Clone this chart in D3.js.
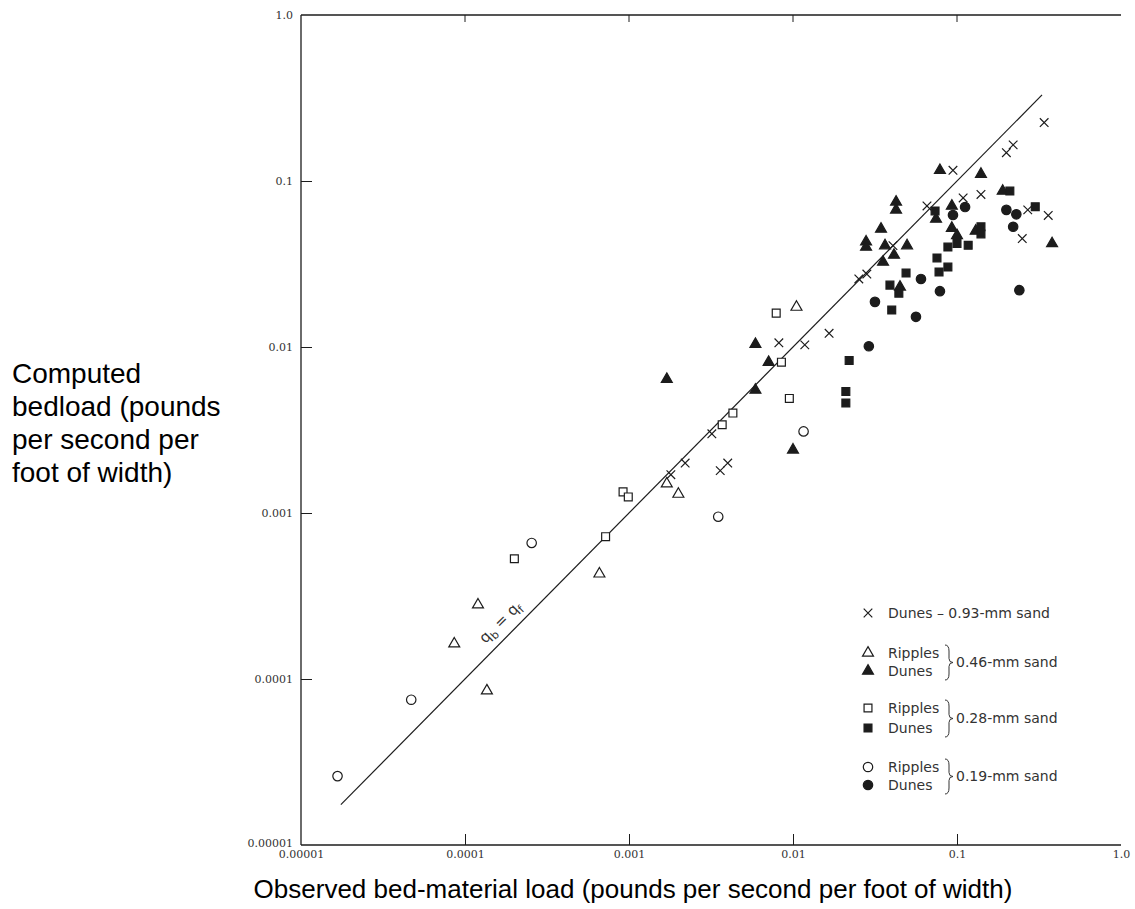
<!DOCTYPE html>
<html>
<head>
<meta charset="utf-8">
<script src="https://cdn.jsdelivr.net/npm/d3@7"></script>
<style>
  body { margin: 0; background: #fff; }
  svg { display: block; }
</style>
</head>
<body>
<div id="chart"></div>
<script>
// observed load (x) vs computed bedload (y), lb/s/ft
var dunes093 = [[0.0166, 0.0121], [0.0082, 0.0106], [0.0118, 0.0103], [0.0032, 0.0030],
    [0.0022, 0.0020], [0.0040, 0.0020], [0.0036, 0.0018], [0.0018, 0.0017],
    [0.0945, 0.116], [0.109, 0.079], [0.0656, 0.0707], [0.0407, 0.0408],
    [0.0252, 0.0257], [0.0282, 0.0275], [0.20, 0.148], [0.22, 0.165],
    [0.34, 0.225], [0.14, 0.083], [0.25, 0.045], [0.27, 0.067], [0.36, 0.062]];
var ripples046 = [[8.6e-5, 1.63e-4], [1.2e-4, 2.8e-4], [1.36e-4, 8.5e-5], [6.6e-4, 4.3e-4],
    [0.0017, 0.0015], [0.0020, 0.0013], [0.0105, 0.0174]];
var dunes046 = [[0.0017, 0.0064], [0.0059, 0.0104], [0.0071, 0.0081], [0.0059, 0.0055],
    [0.010, 0.0024], [0.0787, 0.116], [0.0425, 0.0748], [0.0425, 0.067], [0.0745, 0.059],
    [0.093, 0.0707], [0.0344, 0.0514], [0.093, 0.052], [0.1, 0.047], [0.0279, 0.043],
    [0.0279, 0.040], [0.0364, 0.0408], [0.0496, 0.0408], [0.0413, 0.0358], [0.0354, 0.0325],
    [0.0449, 0.023], [0.14, 0.11], [0.19, 0.087], [0.13, 0.05], [0.38, 0.042]];
var ripples028 = [[2.0e-4, 5.3e-4], [7.2e-4, 7.2e-4], [0.00092, 0.00134], [0.00099, 0.00125],
    [0.0037, 0.0034], [0.0043, 0.0040], [0.0085, 0.0081], [0.0095, 0.0049], [0.0079, 0.016]];
var dunes028 = [[0.0735, 0.066], [0.1, 0.042], [0.088, 0.040], [0.117, 0.041], [0.0755, 0.0344],
    [0.088, 0.0303], [0.0777, 0.0283], [0.0489, 0.0279], [0.039, 0.0236], [0.0442, 0.0211],
    [0.040, 0.0167], [0.21, 0.087], [0.14, 0.053], [0.14, 0.048], [0.30, 0.07],
    [0.022, 0.0083], [0.021, 0.0054], [0.021, 0.0046]];
var ripples019 = [[1.67e-5, 2.6e-5], [4.7e-5, 7.5e-5], [2.55e-4, 6.6e-4], [0.0035, 0.00095],
    [0.0116, 0.0031]];
var dunes019 = [[0.112, 0.0697], [0.0945, 0.0624], [0.0603, 0.0257], [0.0787, 0.0217],
    [0.0316, 0.0187], [0.0562, 0.0152], [0.029, 0.0101], [0.2, 0.067], [0.23, 0.063],
    [0.22, 0.053], [0.24, 0.022]];

var tickValues = [0.00001, 0.0001, 0.001, 0.01, 0.1, 1.0];
var tickLabels = ["0.00001", "0.0001", "0.001", "0.01", "0.1", "1.0"];
var equalityLine = [1.75e-5, 0.33];

var totalWidth = 1135,
    totalHeight = 909;
var plotLeft = 301, plotRight = 1121, plotTop = 15, plotBottom = 845;
var ink = "#1c1c1c";

var xScale = d3.scaleLog().domain([1e-5, 1]).range([plotLeft, plotRight]);
var yScale = d3.scaleLog().domain([1e-5, 1]).range([plotBottom, plotTop]);

var svg = d3.select("#chart").append("svg")
    .attr("width", totalWidth)
    .attr("height", totalHeight);

svg.append("rect").attr("width", totalWidth).attr("height", totalHeight).attr("fill", "#fff");

// frame: bottom, left and top lines
var frame = svg.append("g").attr("stroke", ink).attr("stroke-width", 1.3).attr("fill", "none");
frame.append("line").attr("x1", plotLeft).attr("x2", plotRight).attr("y1", plotBottom).attr("y2", plotBottom);
frame.append("line").attr("x1", plotLeft).attr("x2", plotLeft).attr("y1", plotTop).attr("y2", plotBottom);
frame.append("line").attr("x1", plotLeft).attr("x2", plotRight).attr("y1", plotTop).attr("y2", plotTop);

var xAxis = d3.axisBottom(xScale).tickValues(tickValues)
    .tickSize(-11).tickPadding(5)
    .tickFormat(function(d, i) { return tickLabels[i]; });
var yAxis = d3.axisLeft(yScale).tickValues(tickValues)
    .tickSize(-11).tickPadding(8)
    .tickFormat(function(d, i) { return tickLabels[i]; });

var gx = svg.append("g").attr("transform", "translate(0," + plotBottom + ")").call(xAxis);
var gy = svg.append("g").attr("transform", "translate(" + plotLeft + ",0)").call(yAxis);
[gx, gy].forEach(function(g) {
    g.select(".domain").remove();
    g.selectAll(".tick line").attr("stroke", ink).attr("stroke-width", 1);
    g.selectAll(".tick text")
        .attr("fill", "#333")
        .style("font-family", "'DejaVu Serif', serif")
        .style("font-size", "11px");
    g.selectAll(".tick").filter(function(d) { return d === 1e-5 || d === 1; })
        .select("line").remove();
});
gy.selectAll(".tick").filter(function(d) { return d === 1e-5; })
    .select("text").attr("dy", "0.1em");

// short ticks hanging from the top line
svg.append("g").selectAll("line").data(tickValues.slice(1, 5)).enter().append("line")
    .attr("x1", function(d) { return xScale(d); })
    .attr("x2", function(d) { return xScale(d); })
    .attr("y1", plotTop).attr("y2", plotTop + 7)
    .attr("stroke", ink).attr("stroke-width", 1);

// q_b = q_f line
svg.append("line")
    .attr("x1", xScale(equalityLine[0])).attr("y1", yScale(equalityLine[0]))
    .attr("x2", xScale(equalityLine[1])).attr("y2", yScale(equalityLine[1]))
    .attr("stroke", ink).attr("stroke-width", 1.2);

var lx = xScale(1.9e-4) - 7, ly = yScale(1.9e-4) - 7;
var lab = svg.append("text")
    .attr("transform", "translate(" + lx + "," + ly + ") rotate(-45)")
    .attr("text-anchor", "middle")
    .attr("fill", "#333")
    .style("font-family", "'DejaVu Sans', sans-serif")
    .style("font-size", "15px");
lab.append("tspan").text("q");
lab.append("tspan").attr("dy", 4).style("font-size", "11px").text("b");
lab.append("tspan").attr("dy", -4).text(" = q");
lab.append("tspan").attr("dy", 4).style("font-size", "11px").text("f");

// markers
function cross(s) {
    return "M" + -s + "," + -s + "L" + s + "," + s + "M" + -s + "," + s + "L" + s + "," + -s;
}
var tri = d3.symbol().type(d3.symbolTriangle).size(52)(),
    sq = d3.symbol().type(d3.symbolSquare).size(62)(),
    circ = d3.symbol().type(d3.symbolCircle).size(70)();

var series = [
    { data: dunes093, path: cross(4.3), fill: "none" },
    { data: ripples046, path: tri, fill: "#fff" },
    { data: dunes046, path: tri, fill: ink },
    { data: ripples028, path: sq, fill: "#fff" },
    { data: dunes028, path: sq, fill: ink },
    { data: ripples019, path: circ, fill: "#fff" },
    { data: dunes019, path: circ, fill: ink }
];

series.forEach(function(s) {
    svg.append("g").selectAll("path").data(s.data).enter().append("path")
        .attr("d", s.path)
        .attr("transform", function(d) {
            return "translate(" + xScale(d[0]) + "," + yScale(d[1]) + ")";
        })
        .attr("fill", s.fill)
        .attr("stroke", ink)
        .attr("stroke-width", 1.2);
});

// legend
var legendRows = [
    { y: 613, s: 0, text: "Dunes \u2013 0.93-mm sand" },
    { y: 653, s: 1, text: "Ripples" },
    { y: 671, s: 2, text: "Dunes" },
    { y: 708, s: 3, text: "Ripples" },
    { y: 728, s: 4, text: "Dunes" },
    { y: 767, s: 5, text: "Ripples" },
    { y: 785, s: 6, text: "Dunes" }
];
var braces = [
    { y1: 645, y2: 680, text: "0.46-mm sand" },
    { y1: 700, y2: 737, text: "0.28-mm sand" },
    { y1: 759, y2: 794, text: "0.19-mm sand" }
];
var legend = svg.append("g")
    .style("font-family", "'DejaVu Sans', sans-serif")
    .style("font-size", "14px")
    .attr("fill", "#333");

legendRows.forEach(function(r) {
    var s = series[r.s];
    legend.append("path")
        .attr("d", s.path)
        .attr("transform", "translate(868," + r.y + ")")
        .attr("fill", s.fill).attr("stroke", ink).attr("stroke-width", 1.2);
    legend.append("text").attr("x", 888).attr("y", r.y).attr("dy", "0.35em").text(r.text);
});

braces.forEach(function(b) {
    var x = 945, m = (b.y1 + b.y2) / 2;
    legend.append("path")
        .attr("d", "M" + x + "," + b.y1 + "Q" + (x + 4) + "," + b.y1 + " " + (x + 4) + "," + (b.y1 + 6) +
            "L" + (x + 4) + "," + (m - 4) + "Q" + (x + 4) + "," + m + " " + (x + 8) + "," + m +
            "Q" + (x + 4) + "," + m + " " + (x + 4) + "," + (m + 4) +
            "L" + (x + 4) + "," + (b.y2 - 6) + "Q" + (x + 4) + "," + b.y2 + " " + x + "," + b.y2)
        .attr("fill", "none").attr("stroke", "#333").attr("stroke-width", 1);
    legend.append("text").attr("x", x + 11).attr("y", m).attr("dy", "0.35em").text(b.text);
});

// axis titles
svg.append("text")
    .attr("x", 633).attr("y", 898)
    .attr("text-anchor", "middle")
    .attr("fill", "#000")
    .style("font-family", "'Liberation Sans', Arial, sans-serif")
    .style("font-size", "26px")
    .text("Observed bed-material load (pounds per second per foot of width)");

var yTitle = ["Computed", "bedload (pounds", "per second per", "foot of width)"];
svg.append("g").selectAll("text").data(yTitle).enter().append("text")
    .attr("x", 12)
    .attr("y", function(d, i) { return 383 + i * 33; })
    .attr("fill", "#000")
    .style("font-family", "'Liberation Sans', Arial, sans-serif")
    .style("font-size", "28px")
    .text(function(d) { return d; });
</script>
</body>
</html>
